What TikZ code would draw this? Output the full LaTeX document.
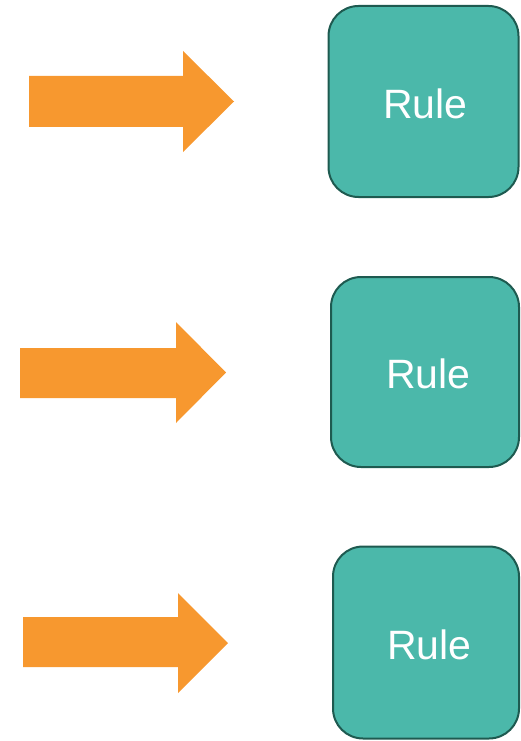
\documentclass[tikz,border=0pt]{standalone}
\usepackage{fontspec}
\setmainfont{Liberation Sans}
\definecolor{arroworange}{HTML}{F7982F}
\definecolor{boxfill}{HTML}{4BB8AA}
\definecolor{boxline}{HTML}{1E5A50}
\begin{document}
\begin{tikzpicture}[x=1pt,y=-1pt,
  rulebox/.style={draw=boxline, fill=boxfill, line width=2pt, rounded corners=30pt,
    inner sep=0pt},
  ruletext/.style={anchor=base, inner sep=0pt, text=white, font=\fontsize{41}{41}\selectfont},
  bigarrow/.style={fill=arroworange, draw=none}]
\useasboundingbox (0,0) rectangle (520,741);
% arrows
\fill[bigarrow] (29,76) -- (183,76) -- (183,51) -- (234,101.5) -- (183,152) -- (183,127) -- (29,127) -- cycle;
\fill[bigarrow] (20,348) -- (176,348) -- (176,322) -- (226,372.5) -- (176,423) -- (176,398) -- (20,398) -- cycle;
\fill[bigarrow] (23,617) -- (178,617) -- (178,593) -- (228,643) -- (178,693) -- (178,667) -- (23,667) -- cycle;
% boxes
\node[rulebox, minimum width=190pt, minimum height=191pt] (r1) at (423.5,101.5) {};
\node[rulebox, minimum width=188pt, minimum height=190pt] (r2) at (425,372) {};
\node[rulebox, minimum width=186pt, minimum height=192pt] (r3) at (426,642.5) {};
\node[ruletext] (t1) at (425.5,118) {Rule};
\node[ruletext] (t2) at (428.5,388) {Rule};
\node[ruletext] (t3) at (429.5,659.5) {Rule};
\end{tikzpicture}
\end{document}
